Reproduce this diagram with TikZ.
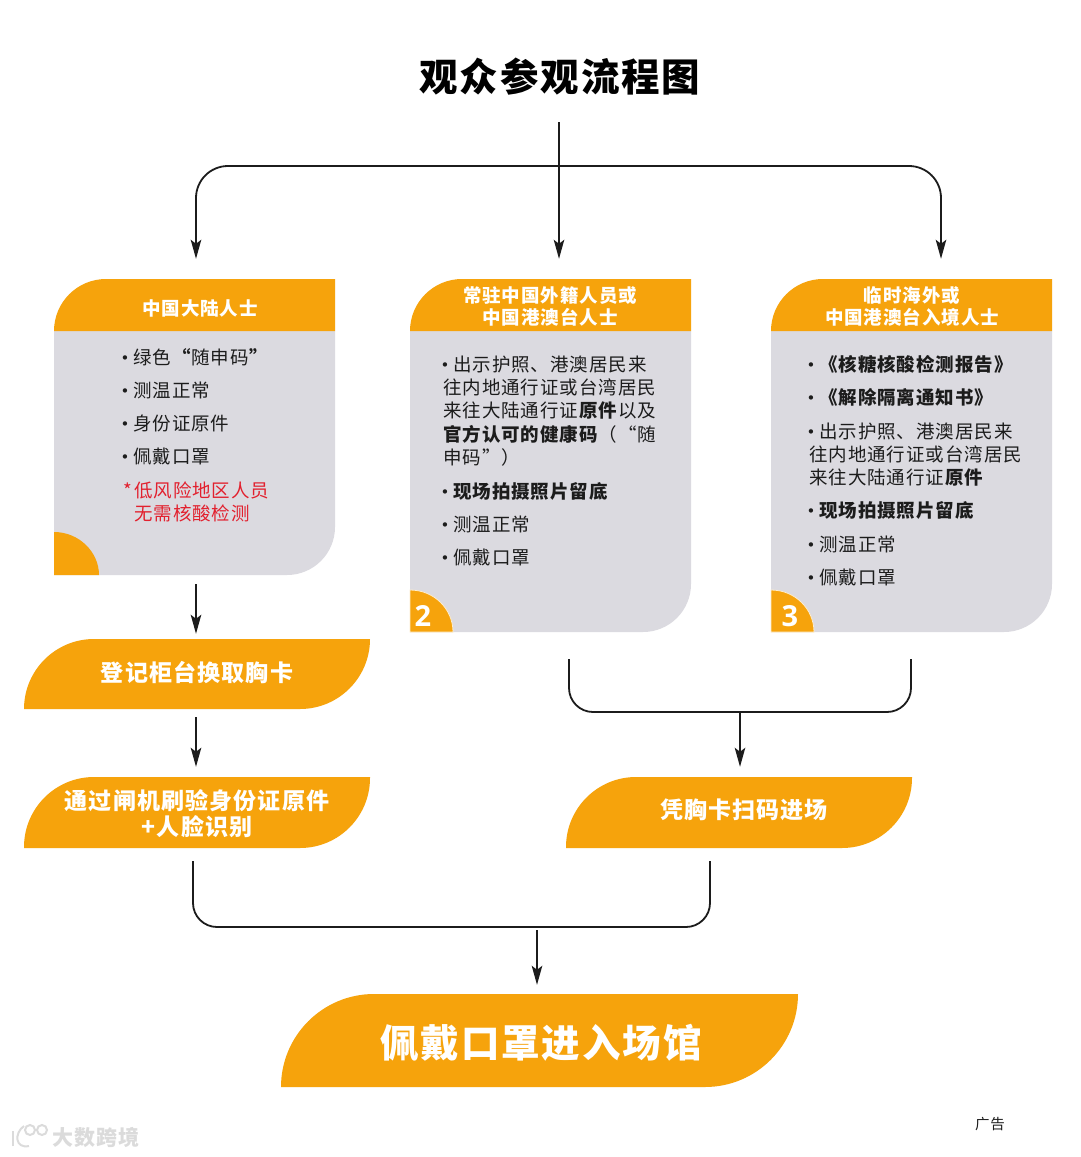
\documentclass[tikz,border=0pt]{standalone}
\usepackage{fontspec}
\setmainfont[LetterSpace=5]{Noto Sans CJK SC}
\newfontfamily\numfont{Open Sans}
\newfontfamily\bulfont{DejaVu Sans}
\usetikzlibrary{arrows.meta,calc}
\definecolor{brand}{HTML}{F6A30C}
\definecolor{panel}{HTML}{DBDAE0}
\definecolor{ink}{HTML}{1C1C1C}
\definecolor{alert}{HTML}{E2202E}
\tikzset{
  x=1pt,y=-1pt,
  conn/.style={draw=ink,line width=1.8pt},
  arr/.style={conn,-{Stealth[length=19pt,width=10.5pt,inset=4pt]}},
  body/.style={anchor=base west,inner sep=0pt,text=ink,yshift=-7pt,font=\fontsize{18.5}{23.3}\selectfont,align=left},
  alertline/.style={body,text=alert},
  head/.style={anchor=base,inner sep=0pt,text=white,yshift=-7pt,font=\fontsize{18.5}{22}\selectfont\bfseries},
  pilltxt/.style={anchor=base,inner sep=0pt,text=white,yshift=-8.5pt,font=\fontsize{23}{26}\selectfont\bfseries},
  bigtxt/.style={anchor=base,inner sep=0pt,text=white,yshift=-14.5pt,font=\fontsize{38.5}{40}\selectfont\bfseries},
  titletxt/.style={anchor=base,inner sep=0pt,text=black,yshift=-14.5pt,font=\fontsize{38.5}{40}\selectfont\bfseries},
}
\newcommand{\bul}{\makebox[11pt][l]{\hspace{-1.5pt}\raisebox{1pt}{\bulfont\fontsize{15}{15}\selectfont\symbol{"2022}}}}
% card: name, x0, x1, y1
\newcommand{\card}[4]{%
  \fill[panel] (#2,331) -- (#2,#4) [rounded corners=48pt] -- (#3,#4) [sharp corners] -- (#3,331) -- cycle;
  \fill[brand] (#2,331) [rounded corners=52pt] -- (#2,279) [sharp corners] -- (#3,279) -- (#3,331) -- cycle;
  \path (#2,279) -- (#3,#4) node[pos=.5,minimum width=#3pt-#2pt,minimum height=#4pt-279pt,inner sep=0pt] (#1) {};
}
% pill: name, x0, x1, y0, y1, radius
\newcommand{\pill}[6]{%
  \fill[brand] (#2,#5) [rounded corners=#6pt] -- (#2,#4) [sharp corners] -- (#3,#4) [rounded corners=#6pt] -- (#3,#5) [sharp corners] -- cycle;
  \path (#2,#4) -- (#3,#5) node[pos=.5,minimum width=#3pt-#2pt,minimum height=#5pt-#4pt,inner sep=0pt] (#1) {};
}
\begin{document}
\begin{tikzpicture}
\useasboundingbox (0,0) rectangle (1080,1157);
\fill[white] (0,0) rectangle (1080,1157);

\node[titletxt] (title) at (560,77) {观众参观流程图};

% cards
\card{card1}{54}{335}{575}
\card{card2}{410}{691}{632}
\card{card3}{771}{1052}{632}

% corner quadrants
\fill[brand] (54,575) -- (54,532) .. controls (79,532) and (99,552) .. (99,575) -- cycle;
\fill[brand,draw=white!80!brand,line width=.8pt] (410,632) -- (410,590) .. controls (434,590) and (453,609) .. (453,632) -- cycle;
\fill[brand,draw=white!80!brand,line width=.8pt] (771,632) -- (771,590) .. controls (795,590) and (814,609) .. (814,632) -- cycle;
\node[anchor=base,inner sep=0pt,text=white,font=\numfont\fontsize{29}{30}\selectfont\bfseries] (num2) at (423,626) {2};
\node[anchor=base,inner sep=0pt,text=white,font=\numfont\fontsize{29}{30}\selectfont\bfseries] (num3) at (790,626) {3};

% headers
\node[head] (h1) at (200,308) {中国大陆人士};
\node[head] (h2a) at (550,295) {常驻中国外籍人员或};
\node[head] (h2b) at (550,317) {中国港澳台人士};
\node[head] (h3a) at (912,295) {临时海外或};
\node[head] (h3b) at (912,317) {中国港澳台入境人士};

% card 1 body
\node[body] (a1) at (122,357) {\bul 绿色\textbf{“}随申码\textbf{”}};
\node[body] (a2) at (122,390) {\bul 测温正常};
\node[body] (a3) at (122,423) {\bul 身份证原件};
\node[body] (a4) at (122,456) {\bul 佩戴口罩};
\node[alertline] (a5) at (123,490) {\makebox[11pt][l]{*}低风险地区人员};
\node[alertline] (a6) at (134,513) {无需核酸检测};

% card 2 body
\node[body] (b1) at (442,364) {\bul 出示护照、港澳居民来};
\node[body] (b2) at (443,387) {往内地通行证或台湾居民};
\node[body] (b3) at (443,410) {来往大陆通行证\textbf{原件}以及};
\node[body] (b4) at (443,434) {\textbf{官方认可的健康码}（“随};
\node[body] (b5) at (443,457) {申码”）};
\node[body] (b6) at (442,491) {\bul \textbf{现场拍摄照片留底}};
\node[body] (b7) at (442,524) {\bul 测温正常};
\node[body] (b8) at (442,557) {\bul 佩戴口罩};

% card 3 body
\node[body] (c1) at (808,364) {\bul \textbf{《核糖核酸检测报告》}};
\node[body] (c2) at (808,397) {\bul \textbf{《解除隔离通知书》}};
\node[body] (c3) at (808,431) {\bul 出示护照、港澳居民来};
\node[body] (c4) at (809,454) {往内地通行证或台湾居民};
\node[body] (c5) at (809,477) {来往大陆通行证\textbf{原件}};
\node[body] (c6) at (808,510) {\bul \textbf{现场拍摄照片留底}};
\node[body] (c7) at (808,544) {\bul 测温正常};
\node[body] (c8) at (808,577) {\bul 佩戴口罩};

% pills
\pill{pill1}{24}{370}{639}{709}{70}
\pill{pill2}{24}{370}{777}{848}{70}
\pill{pill3}{566}{912}{777}{848}{70}
\pill{pill4}{281}{798}{994}{1087}{93}
\node[pilltxt] (p1) at (197,673) {登记柜台换取胸卡};
\node[pilltxt] (p2a) at (197,801) {通过闸机刷验身份证原件};
\node[pilltxt] (p2b) at (197,827) {+人脸识别};
\node[pilltxt] (p3) at (744,810) {凭胸卡扫码进场};
\node[bigtxt] (p4) at (541,1043) {佩戴口罩进入场馆};

% free ends of the connectors
\coordinate (trunk) at (559,122);
\coordinate (bus) at (559,166);
\coordinate (busL) at (196,166);
\coordinate (busR) at (941,166);
\coordinate (drop1) at (196,584);
\coordinate (drop2) at (196,717);
\coordinate (brL) at (569,659);
\coordinate (brM) at (740,712);
\coordinate (brR) at (911,659);
\coordinate (lowL) at (193,861);
\coordinate (lowM) at (537,927);
\coordinate (lowR) at (710,861);

% connectors
\draw[arr,shorten >=20pt] (trunk) -- (trunk |- card2.north);
\draw[arr,rounded corners=32pt,shorten >=20pt] (bus) -| (busL |- card1.north);
\draw[arr,rounded corners=32pt,shorten >=20pt] (bus) -| (busR |- card3.north);
\draw[arr,shorten >=5pt] (drop1) -- (drop1 |- pill1.north);
\draw[arr,shorten >=10pt] (drop2) -- (drop2 |- pill2.north);
\draw[conn,rounded corners=24pt] (brL) |- (brM) -| (brR);
\draw[arr,shorten >=10pt] (brM) -- (brM |- pill3.north);
\draw[conn,rounded corners=24pt] (lowL) |- (lowM) -| (lowR);
\draw[arr,shorten <=3pt,shorten >=9pt] (lowM) -- (lowM |- pill4.north);

% footer
\node[anchor=base,inner sep=0pt,text=ink,font=\fontsize{14.5}{15}\selectfont] (ad) at (990,1129) {广告};
\begin{scope}[draw=black!14,line width=2pt]
  \draw (30,1130) circle[radius=5];
  \draw (42,1130) circle[radius=5];
  \draw (13,1146) -- (13,1131);
  \draw (29,1146) .. controls (15,1149) and (14,1133) .. (24,1126);
\end{scope}
\node[anchor=base,inner sep=0pt,text=black!14,font=\fontsize{21}{22}\selectfont\bfseries] (mark) at (96,1145) {大数跨境};
\end{tikzpicture}
\end{document}
